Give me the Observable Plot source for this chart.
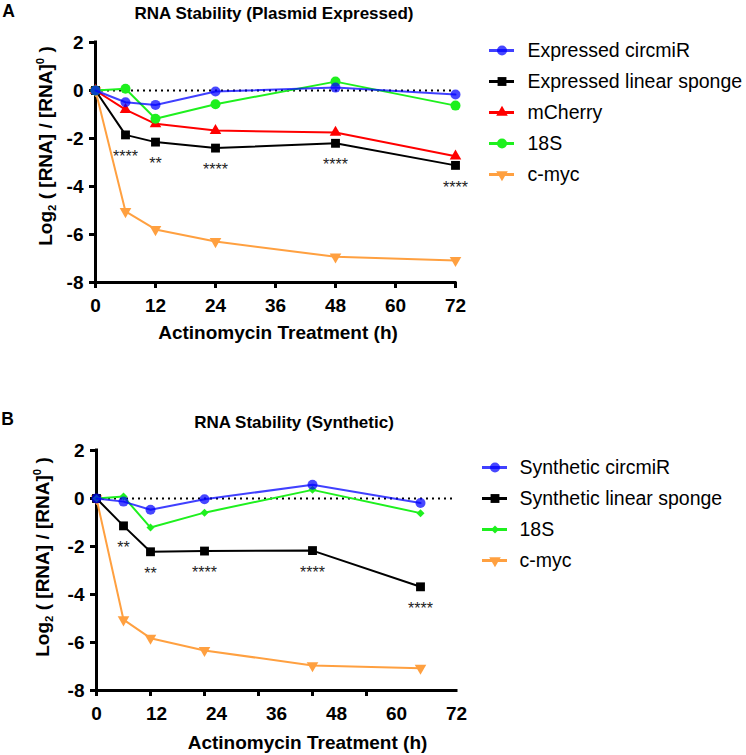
<!DOCTYPE html>
<html><head><meta charset="utf-8">
<script src="https://cdn.jsdelivr.net/npm/d3@7"></script>
<script src="https://cdn.jsdelivr.net/npm/@observablehq/plot@0.6"></script>
<style>
body{margin:0;background:#fff;}
#wrap{position:relative;width:746px;height:755px;overflow:hidden;font-family:"Liberation Sans",Arial,sans-serif;color:#000;}
.abs{position:absolute;}
.lbl{position:absolute;transform:translate(-50%,-50%);white-space:nowrap;font-weight:bold;line-height:1;}
.ylab{position:absolute;transform:translate(-50%,-50%) rotate(-90deg);white-space:nowrap;font-weight:bold;font-size:19px;line-height:1;}
.ylab sub,.ylab sup{font-size:60%;line-height:0;}
[aria-label$="tick label"]{font-weight:bold;}
</style></head><body><div id="wrap"></div>
<script>
// ---------- data ----------
const times = [0, 6, 12, 24, 48, 72];
const yTicks = [-8, -6, -4, -2, 0, 2];
const xTicksA = [0, 12, 24, 36, 48, 60, 72];
const xTicksB = [0, 12, 24, 36, 48, 60];
const xLabelsB = [0, 12, 24, 36, 48, 60, 72];

const namesA = ["Expressed circmiR", "Expressed linear sponge", "mCherry", "18S", "c-myc"];
const A_circmiR = [0, -0.49, -0.60, -0.04, 0.12, -0.17];
const A_linear  = [0, -1.85, -2.15, -2.40, -2.20, -3.12];
const A_mCherry = [0, -0.80, -1.39, -1.67, -1.75, -2.74];
const A_18S     = [0, 0.07, -1.18, -0.57, 0.37, -0.63];
const A_cmyc    = [0, -5.04, -5.79, -6.29, -6.93, -7.08];
const starTimesA  = [6, 12, 24, 48, 72];
const starLabelsA = ["****", "**", "****", "****", "****"];

const namesB = ["Synthetic circmiR", "Synthetic linear sponge", "18S", "c-myc"];
const B_circmiR = [0, -0.13, -0.47, -0.03, 0.57, -0.19];
const B_linear  = [0, -1.14, -2.22, -2.19, -2.17, -3.68];
const B_18S     = [0, 0.08, -1.21, -0.59, 0.36, -0.61];
const B_cmyc    = [0, -5.05, -5.82, -6.33, -6.96, -7.07];
const starTimesB  = [6, 12, 24, 48, 72];
const starLabelsB = ["**", "**", "****", "****", "****"];

// ---------- styles ----------
const triangleDown = {
  draw(context, size) {
    const y = -Math.sqrt(size / (Math.sqrt(3) * 3));
    context.moveTo(0, -2 * y);
    context.lineTo(-Math.sqrt(3) * y, y);
    context.lineTo(Math.sqrt(3) * y, y);
    context.closePath();
  }
};
const BLUE = "#0000ff", BLACK = "#000000", RED = "#ff0000", GREEN = "#1ef01e", ORANGE = "#ffa040";
const FONT = "'Liberation Sans', Arial, sans-serif";

const seriesA = [
  {name: namesA[4], values: A_cmyc, color: ORANGE, symbol: triangleDown, r: 4.3, op: 1},
  {name: namesA[1], values: A_linear, color: BLACK, symbol: "square", r: 5, op: 1},
  {name: namesA[2], values: A_mCherry, color: RED, symbol: "triangle", r: 4.3, op: 1},
  {name: namesA[3], values: A_18S, color: GREEN, symbol: "circle", r: 5, op: 1},
  {name: namesA[0], values: A_circmiR, color: BLUE, symbol: "circle", r: 5, op: 0.72}
];
const seriesB = [
  {name: namesB[3], values: B_cmyc, color: ORANGE, symbol: triangleDown, r: 4.3, op: 1},
  {name: namesB[1], values: B_linear, color: BLACK, symbol: "square", r: 5, op: 1},
  {name: namesB[2], values: B_18S, color: GREEN, symbol: "diamond2", r: 3.6, op: 1},
  {name: namesB[0], values: B_circmiR, color: BLUE, symbol: "circle", r: 5, op: 0.72}
];

function rowsOf(s) { return times.map((t, i) => ({t, v: s.values[i]})); }

function panel({series, linear, starTimes, starLabels, xDomain, xTicks, tickLabels, marginLeft, marginRight}) {
  const marks = [
    Plot.ruleY([0], {stroke: "#000", strokeWidth: 2, strokeDasharray: "2,4"}),
    Plot.ruleX([xDomain[0]], {stroke: "#000", strokeWidth: 3, strokeLinecap: "square"}),
    Plot.ruleY([yTicks[0]], {stroke: "#000", strokeWidth: 3, strokeLinecap: "square"}),
    Plot.axisY({ticks: yTicks, tickSize: 6, tickPadding: 6, strokeWidth: 3, fontSize: 19, fontWeight: "bold",
      tickFormat: d => String(d), label: null}),
    Plot.axisX({ticks: xTicks, tickSize: 6, tickPadding: 10, strokeWidth: 3, fontSize: 19, fontWeight: "bold",
      tickFormat: tickLabels ? (d => String(d)) : (() => ""), label: null})
  ];
  for (const s of series) {
    const rows = rowsOf(s);
    marks.push(Plot.line(rows, {x: "t", y: "v", stroke: s.color, strokeWidth: 2, strokeOpacity: s.op === 1 ? 1 : 0.75}));
    marks.push(Plot.dot(rows, {x: "t", y: "v", symbol: s.symbol, r: s.r, fill: s.color, fillOpacity: s.op, stroke: "none"}));
  }
  const stars = starTimes.map((t, i) => ({t, v: linear[times.indexOf(t)], s: starLabels[i]}));
  marks.push(Plot.text(stars, {x: "t", y: "v", text: "s", dy: 22, fontSize: 16, fill: "#222", fontFamily: FONT}));
  return Plot.plot({
    width: 470, height: 360,
    marginLeft, marginRight, marginTop: 42, marginBottom: 78,
    x: {domain: xDomain, label: null},
    y: {domain: [yTicks[0], yTicks[yTicks.length - 1]], label: null},
    style: {fontFamily: FONT, background: "none", overflow: "visible", color: "#000"},
    marks
  });
}

function legend(series, names, yRange, xRange, dx) {
  const ordered = names.map(n => series.find(s => s.name === n));
  const marks = [];
  for (const s of ordered) {
    marks.push(Plot.ruleY([s.name], {x1: 0, x2: 1, y: d => d, stroke: s.color, strokeWidth: 3, strokeOpacity: s.op === 1 ? 1 : 0.75}));
    marks.push(Plot.dot([s.name], {x: 0.5, y: d => d, symbol: s.symbol, r: s.r, fill: s.color, fillOpacity: s.op, stroke: "none"}));
  }
  marks.push(Plot.text(names, {x: 1, y: d => d, text: d => d, dx, textAnchor: "start", fontSize: 19.5, fill: "#000"}));
  return Plot.plot({
    width: 266, height: 200,
    x: {domain: [0, 1], range: xRange, axis: null},
    y: {type: "point", domain: names, range: yRange, padding: 0, axis: null},
    style: {fontFamily: FONT, background: "none", overflow: "visible"},
    marks
  });
}

const wrap = document.getElementById("wrap");
function place(el, left, top) { el.style.position = "absolute"; el.style.left = left + "px"; el.style.top = top + "px"; el.style.maxWidth = "none"; wrap.appendChild(el); }
function label(text, x, y, size, cls = "lbl") {
  const d = document.createElement("div"); d.className = cls; d.innerHTML = text;
  d.style.left = x + "px"; d.style.top = y + "px"; if (size) d.style.fontSize = size + "px";
  wrap.appendChild(d);
}

// Panel A
place(panel({series: seriesA, linear: A_linear, starTimes: starTimesA, starLabels: starLabelsA,
  xDomain: [0, 72], xTicks: xTicksA, tickLabels: true, marginLeft: 95, marginRight: 15}), 0, 0);
place(legend(seriesA, namesA, [18, 145], [9, 34], 13), 480, 30);

// Panel B
place(panel({series: seriesB, linear: B_linear, starTimes: starTimesB, starLabels: starLabelsB,
  xDomain: [0, 80], xTicks: xTicksB, tickLabels: false, marginLeft: 96, marginRight: 14}), 0, 408);
place(Plot.plot({
  width: 470, height: 360, marginLeft: 96, marginRight: 14, marginTop: 42, marginBottom: 79,
  x: {domain: [0, 72], label: null},
  style: {fontFamily: FONT, background: "none", overflow: "visible"},
  marks: [Plot.axisX({ticks: xLabelsB, tickSize: 0, tickPadding: 17, fontSize: 19, fontWeight: "bold", tickFormat: d => String(d), label: null})]
}), 0, 408);
place(legend(seriesB, namesB, [46, 141], [2, 27], 12), 480, 420);

// Text
label("A", 8.5, 12, 17.5);
label("RNA Stability (Plasmid Expressed)", 274, 12.5, 17);
label("Actinomycin Treatment (h)", 278, 331.5, 19);
label("Log<sub>2</sub> ( [RNA] / [RNA]<sup>0</sup> )", 45, 146, null, "ylab");
label("B", 7.5, 420, 17.5);
label("RNA Stability (Synthetic)", 294, 421.5, 17);
label("Actinomycin Treatment (h)", 307.5, 741.5, 19);
label("Log<sub>2</sub> ( [RNA] / [RNA]<sup>0</sup> )", 41.5, 556.5, null, "ylab");
</script></body></html>
